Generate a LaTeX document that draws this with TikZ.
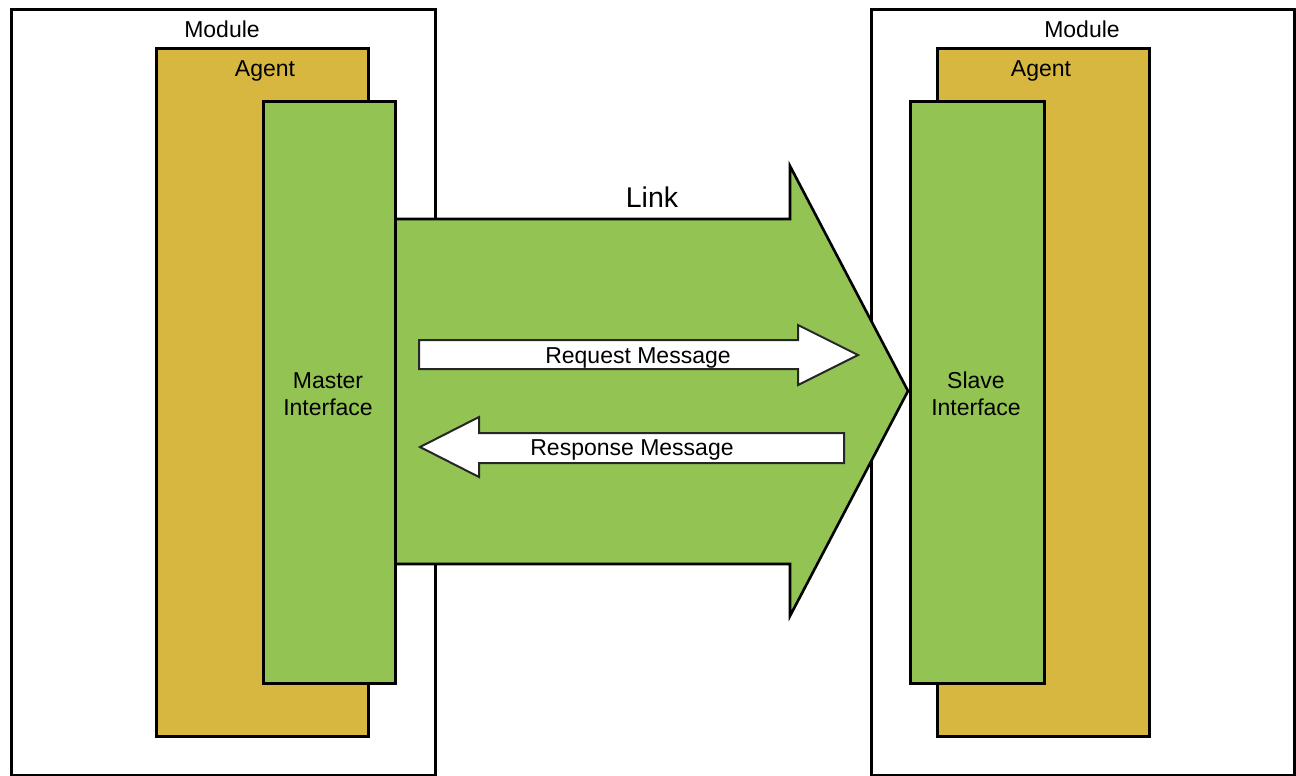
\documentclass[tikz,border=0pt]{standalone}
\usepackage{fontspec}
\setmainfont{Liberation Sans}
\definecolor{agentc}{HTML}{D8B740}
\definecolor{greenc}{HTML}{93C352}
\begin{document}
\begin{tikzpicture}[x=1pt,y=-1pt,
  modbox/.style={draw=black,line width=3.4pt,fill=white,inner sep=0pt,anchor=north west},
  agentbox/.style={draw=black,line width=3.4pt,fill=agentc,inner sep=0pt,anchor=north west},
  ifbox/.style={draw=black,line width=3.4pt,fill=greenc,inner sep=0pt,anchor=north west},
  lbl/.style={font=\fontsize{23}{27}\selectfont,inner sep=0pt,align=center},
  bl/.style={lbl,anchor=base},
  msg/.style={draw=black!85,line width=2pt,fill=white,line join=miter},
  linkarrow/.style={draw=black,line width=2.6pt,fill=greenc,line join=miter}]
\useasboundingbox (0,0) rectangle (1296,776);
% modules and agents
\node[modbox,minimum width=424pt,minimum height=766pt] (modL) at (10,8) {};
\node[agentbox,minimum width=212pt,minimum height=688pt] (agL) at (155,47) {};
\node[modbox,minimum width=423pt,minimum height=766pt] (modR) at (870,8) {};
\node[agentbox,minimum width=212pt,minimum height=688pt] (agR) at (936,47) {};
% link arrow
\draw[linkarrow] (394,219) -- (790,219) -- (790,166) -- (908,391) -- (790,616) -- (790,564) -- (394,564);
% interfaces
\node[ifbox,minimum width=132pt,minimum height=582pt] (ifL) at (262,100) {};
\node[ifbox,minimum width=134pt,minimum height=582pt] (ifR) at (909,100) {};
% labels
\node[bl] (tModL) at (222,38) {Module};
\node[bl] (tModR) at (1082,38) {Module};
\node[bl] (tAgL) at (265,77) {Agent};
\node[bl] (tAgR) at (1041,77) {Agent};
\node[lbl] (tIfL) at (328,394) {Master\\Interface};
\node[lbl] (tIfR) at (976,394) {Slave\\Interface};
\node[font=\fontsize{28.5}{32}\selectfont,inner sep=0pt,anchor=base] (tLink) at (652,207) {Link};
% request message
\draw[msg] (419,340) -- (798,340) -- (798,325) -- (858,355) -- (798,385) -- (798,369) -- (419,369) -- cycle;
\node[bl] (tReq) at (638,363) {Request Message};
% response message
\draw[msg] (420,447) -- (479,417) -- (479,433) -- (844,433) -- (844,463) -- (479,463) -- (479,477) -- cycle;
\node[bl] (tResp) at (632,455) {Response Message};
\end{tikzpicture}
\end{document}
